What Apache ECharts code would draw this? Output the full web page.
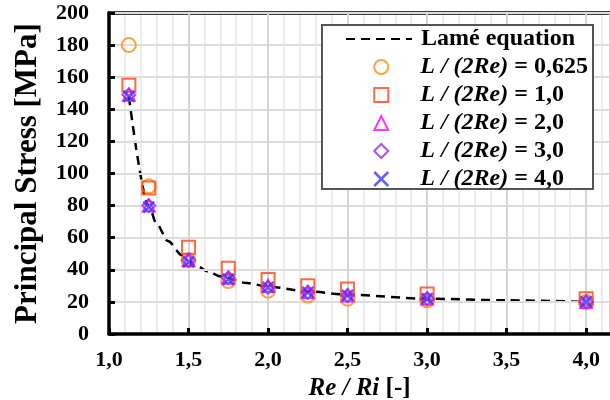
<!DOCTYPE html>
<html>
<head>
<meta charset="utf-8">
<script src="https://cdn.jsdelivr.net/npm/echarts@6/dist/echarts.min.js"></script>
<style>
  html, body { margin: 0; padding: 0; background: #fff; }
  #chart { width: 610px; height: 400px; }
</style>
</head>
<body>
<div id="chart"></div>
<script>
// Radius ratio Re/Ri of the tested cylinders
const ratios = [1.125, 1.25, 1.5, 1.75, 2.0, 2.25, 2.5, 3.0, 4.0];

// Principal stress [MPa] for each length ratio L/(2Re)
const stressL0625 = [180, 92, 46, 33, 27, 24, 22, 21, 20];
const stressL10   = [155, 91, 54, 41, 34, 30, 28, 25, 22];
const stressL20   = [149, 80, 46, 35, 30, 26, 24, 22, 20];
const stressL30   = [149, 80, 46, 35, 29, 26, 24, 22, 20];
const stressL40   = [148, 79, 45, 34, 29, 26, 24, 22, 20];

// Analytical Lamé curve
const lameX = [1.125, 1.25, 1.3, 1.37, 1.46, 1.55, 1.62, 1.7, 1.87, 2.0, 2.25, 2.5, 3.0, 3.5, 4.0];
const lameY = [148, 80, 68.5, 58, 49, 42.5, 39, 36, 31.7, 29.5, 26.5, 24.5, 22, 21, 20];

const seriesNames = [
  'L / (2Re) = 0,625',
  'L / (2Re) = 1,0',
  'L / (2Re) = 2,0',
  'L / (2Re) = 3,0',
  'L / (2Re) = 4,0'
];
const lameName = 'Lamé equation';

const xMin = 1.0, xMax = 4.15;
const xTickStep = 0.5, xMinorStep = 0.1;
const yTickStep = 20;

const pair = (xs, ys) => xs.map((x, i) => [x, ys[i]]);

const serif = 'Liberation Serif';
const crossPath = 'path://M0,0L10,10M10,0L0,10';

const markerDefs = [
  { data: stressL0625, symbol: 'circle',   size: 14, color: '#FF8A12', width: 2 },
  { data: stressL10,   symbol: 'rect',     size: 13, color: '#FF4214', width: 2 },
  { data: stressL20,   symbol: 'triangle', size: 12, color: '#FF00FF', width: 2 },
  { data: stressL30,   symbol: 'diamond',  size: 13, color: '#8E2BE6', width: 2 },
  { data: stressL40,   symbol: crossPath,  size: 11, color: '#3A3AFF', width: 2.5 }
];

const scatterSeries = markerDefs.map((m, i) => ({
  name: seriesNames[i],
  type: 'scatter',
  data: pair(ratios, m.data),
  symbol: m.symbol,
  symbolSize: m.size,
  itemStyle: { color: 'rgba(0,0,0,0)', borderColor: m.color, borderWidth: m.width },
  z: 3 + i
}));

const legendFont = 24;
const legendRich = {
  i: { fontFamily: serif, fontSize: legendFont, fontWeight: 'bold', fontStyle: 'italic', color: '#000' },
  b: { fontFamily: serif, fontSize: legendFont, fontWeight: 'bold', fontStyle: 'normal', color: '#000' }
};
const legendFormatter = name => {
  if (name === lameName) return '{b|' + name + '}';
  const parts = name.split(' = ');
  return '{i|' + parts[0] + '}{b| = ' + parts[1] + '}';
};

const chart = echarts.init(document.getElementById('chart'), null, { renderer: 'canvas' });

chart.setOption({
  animation: false,
  backgroundColor: '#fff',
  grid: { left: 109, right: 0, top: 13, bottom: 66, outerBoundsMode: 'none', containLabel: false },
  legend: [{
    // dashed-line entry; its frame encloses the whole key
    orient: 'vertical',
    left: 322,
    top: 25,
    padding: [2, 18, 138, 23],
    itemWidth: 66,
    itemHeight: 14,
    backgroundColor: '#fff',
    borderColor: '#555',
    borderWidth: 2,
    data: [{ name: lameName, itemStyle: { color: 'rgba(0,0,0,0)', borderWidth: 0 } }],
    formatter: legendFormatter,
    textStyle: { padding: [0, 0, 0, 4], rich: legendRich },
    z: 4
  }, {
    // marker entries
    orient: 'vertical',
    left: 373,
    top: 55,
    padding: 0,
    itemWidth: 14,
    itemHeight: 14,
    itemGap: 4,
    data: markerDefs.map((m, i) => ({
      name: seriesNames[i],
      icon: m.symbol,
      itemStyle: { color: 'rgba(0,0,0,0)', borderColor: m.color, borderWidth: m.width }
    })),
    formatter: legendFormatter,
    textStyle: { padding: [0, 0, 0, 27], rich: legendRich },
    z: 5
  }],
  xAxis: [{
    type: 'value',
    min: xMin,
    max: xMax,
    interval: xTickStep,
    name: 'Re / Ri {n|[-]}',
    nameLocation: 'middle',
    nameGap: 41,
    nameTextStyle: {
      fontFamily: serif, fontSize: 25, fontWeight: 'bold', fontStyle: 'italic', color: '#000',
      rich: { n: { fontFamily: serif, fontSize: 25, fontWeight: 'bold', fontStyle: 'normal', color: '#000' } }
    },
    axisLine: { lineStyle: { color: '#000', width: 3.5 } },
    axisTick: { inside: true, length: 6, lineStyle: { color: '#000', width: 3 } },
    axisLabel: {
      margin: 15,
      showMaxLabel: false,
      fontFamily: serif, fontSize: 22, fontWeight: 'bold', color: '#000',
      formatter: v => v.toFixed(1).replace('.', ',')
    },
    splitLine: { show: true, lineStyle: { color: '#d4d4d4', width: 2 } },
    z: 3
  }, {
    // frame line along the top of the plot
    type: 'value',
    position: 'top',
    min: xMin,
    max: xMax,
    interval: xTickStep,
    axisLine: { lineStyle: { color: '#000', width: 3.5 } },
    axisTick: { show: false },
    axisLabel: { show: false },
    splitLine: { show: false }
  }, {
    // fine vertical grid every 0.1
    type: 'value',
    position: 'bottom',
    min: xMin,
    max: xMax,
    interval: xMinorStep,
    axisLine: { show: false },
    axisTick: { show: false },
    axisLabel: { show: false },
    splitLine: { show: true, lineStyle: { color: '#ececec', width: 2 } },
    z: 0
  }],
  yAxis: {
    type: 'value',
    min: 0,
    max: 200,
    interval: yTickStep,
    name: 'Principal Stress [MPa]',
    nameLocation: 'middle',
    nameGap: 66,
    nameTextStyle: { fontFamily: serif, fontSize: 31, fontWeight: 'bold', color: '#000' },
    axisLine: { show: true, lineStyle: { color: '#000', width: 3.5 } },
    axisTick: { show: true, inside: true, length: 6, lineStyle: { color: '#000', width: 3 } },
    axisLabel: {
      margin: 20,
      fontFamily: serif, fontSize: 22, fontWeight: 'bold', color: '#000'
    },
    splitLine: { show: true, lineStyle: { color: '#dcdcdc', width: 2 } },
    z: 3
  },
  series: [{
    name: lameName,
    type: 'line',
    data: pair(lameX, lameY),
    smooth: 0.3,
    smoothMonotone: 'x',
    symbol: 'none',
    lineStyle: { color: '#000', width: 2.5, type: [9, 6] },
    itemStyle: { color: '#000' },
    z: 2
  }].concat(scatterSeries)
});
</script>
</body>
</html>
